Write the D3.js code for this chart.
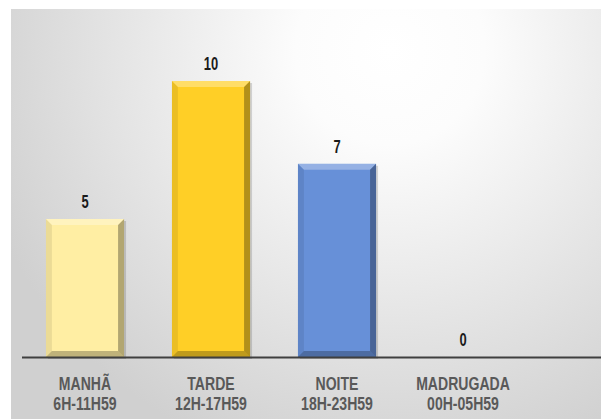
<!DOCTYPE html>
<head>
  <meta charset="utf-8">
  <script src="https://d3js.org/d3.v7.min.js"></script>
  <style>
    body { margin: 0; background: #fff; }
    .val { font-family: "Liberation Sans", Arial, sans-serif; font-weight: bold; font-size: 17.5px; fill: #1a1a1a; }
    .cat { font-family: "Liberation Sans", Arial, sans-serif; font-weight: bold; font-size: 19px; fill: #595959; }
  </style>
</head>
<body>
<script>
  // data
  var periods = ["MANHÃ", "TARDE", "NOITE", "MADRUGADA"];
  var hours = ["6H-11H59", "12H-17H59", "18H-23H59", "00H-05H59"];
  var counts = [5, 10, 7, 0];
  var colors = ["#ffeea3", "#ffcf26", "#6790d8", "#a5a5a5"];

  var width = 601, height = 419;
  var narrow = 0.74; // fake a condensed face

  var svg = d3.select("body").append("svg")
    .attr("width", width)
    .attr("height", height);

  var defs = svg.append("defs");
  var bg = defs.append("radialGradient")
    .attr("id", "bg")
    .attr("gradientUnits", "userSpaceOnUse")
    .attr("cx", 390).attr("cy", 50).attr("r", 430);
  bg.append("stop").attr("offset", "0%").attr("stop-color", "#ffffff");
  bg.append("stop").attr("offset", "22%").attr("stop-color", "#fcfcfc");
  bg.append("stop").attr("offset", "100%").attr("stop-color", "#d0d0d0");

  svg.append("rect")
    .attr("x", 11).attr("y", 9)
    .attr("width", width - 11).attr("height", height - 9)
    .attr("fill", "url(#bg)");

  var x = d3.scaleBand()
    .domain(periods)
    .range([22, 526])
    .paddingInner(0.38)
    .paddingOuter(0.19);

  var y = d3.scaleLinear()
    .domain([0, 10])
    .range([357, 81]);

  var data = periods.map(function(p, i) {
    return { period: p, hours: hours[i], value: counts[i], color: colors[i] };
  });

  var bev = 6;
  var bars = svg.selectAll(".bar").data(data.filter(function(d) { return d.value > 0; }))
    .enter().append("g").attr("class", "bar");

  // shadow
  bars.append("rect")
    .attr("x", function(d) { return x(d.period) + 2; })
    .attr("y", function(d) { return y(d.value) + 2; })
    .attr("width", x.bandwidth())
    .attr("height", function(d) { return y(0) - y(d.value); })
    .attr("fill", "#000").attr("opacity", 0.15);

  bars.append("rect")
    .attr("x", function(d) { return x(d.period); })
    .attr("y", function(d) { return y(d.value); })
    .attr("width", x.bandwidth())
    .attr("height", function(d) { return y(0) - y(d.value); })
    .attr("fill", function(d) { return d.color; });

  function bevel(d, side) {
    var x0 = x(d.period), x1 = x0 + x.bandwidth();
    var y0 = y(d.value), y1 = y(0);
    var pts;
    if (side === "top") pts = [[x0, y0], [x1, y0], [x1 - bev, y0 + bev], [x0 + bev, y0 + bev]];
    if (side === "left") pts = [[x0, y0], [x0 + bev, y0 + bev], [x0 + bev, y1 - bev], [x0, y1]];
    if (side === "right") pts = [[x1, y0], [x1, y1], [x1 - bev, y1 - bev], [x1 - bev, y0 + bev]];
    if (side === "bottom") pts = [[x0, y1], [x0 + bev, y1 - bev], [x1 - bev, y1 - bev], [x1, y1]];
    return "M" + pts.join("L") + "Z";
  }

  var shades = { top: ["#fff", 0.3], left: ["#000", 0.08], right: ["#000", 0.3], bottom: ["#000", 0.25] };
  Object.keys(shades).forEach(function(s) {
    bars.append("path")
      .attr("d", function(d) { return bevel(d, s); })
      .attr("fill", shades[s][0])
      .attr("opacity", shades[s][1]);
  });

  // axis line
  svg.append("line")
    .attr("x1", 22).attr("x2", width)
    .attr("y1", y(0) + 0.5).attr("y2", y(0) + 0.5)
    .attr("stroke", "#3f3f3f").attr("stroke-width", 2);

  function cx(d) { return x(d.period) + x.bandwidth() / 2; }

  svg.selectAll(".val").data(data).enter().append("text")
    .attr("class", "val")
    .attr("text-anchor", "middle")
    .attr("transform", function(d) { return "translate(" + cx(d) + "," + (y(d.value) - 11) + ") scale(" + narrow + ",1)"; })
    .text(function(d) { return d.value; });

  var cats = svg.selectAll(".cat").data(data).enter().append("text")
    .attr("class", "cat")
    .attr("text-anchor", "middle")
    .attr("transform", function(d) { return "translate(" + cx(d) + ",0) scale(" + narrow + ",1)"; });
  cats.append("tspan")
    .attr("x", 0)
    .attr("y", 390)
    .text(function(d) { return d.period; });
  cats.append("tspan")
    .attr("x", 0)
    .attr("y", 410)
    .text(function(d) { return d.hours; });
</script>
</body>
